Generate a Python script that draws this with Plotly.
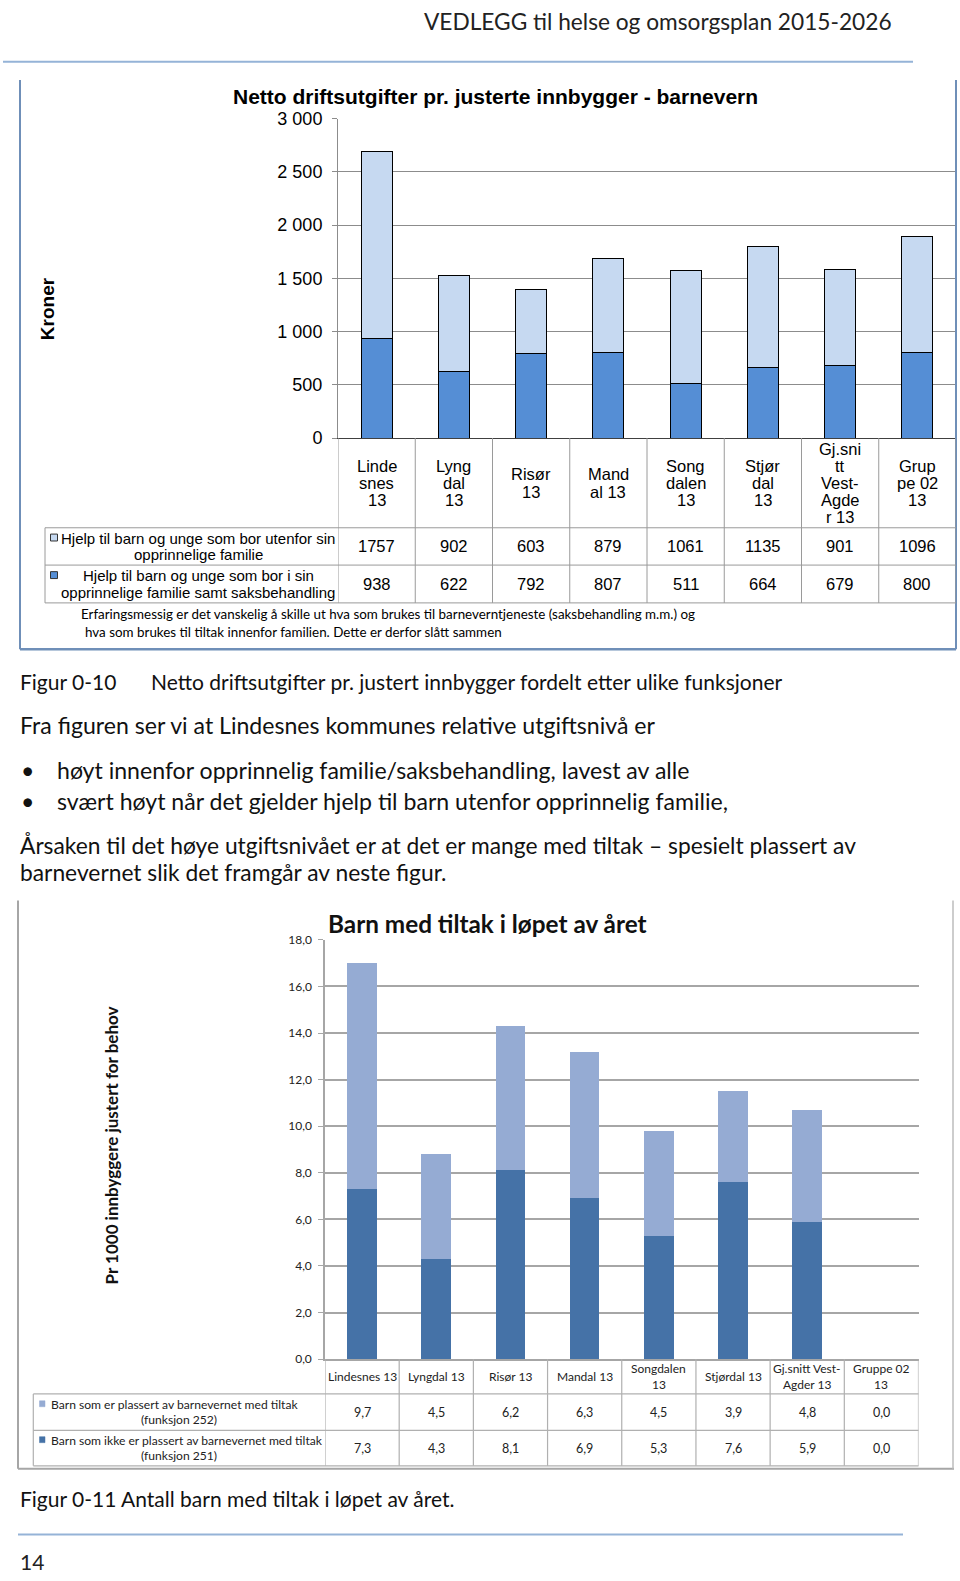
import plotly.graph_objects as go

W, H = 960, 1581

# ---------------- data ----------------
cats1 = ["Linde<br>snes<br>13", "Lyng<br>dal<br>13", "Risør<br>13", "Mand<br>al 13",
         "Song<br>dalen<br>13", "Stjør<br>dal<br>13", "Gj.sni<br>tt<br>Vest-<br>Agde<br>r 13",
         "Grup<br>pe 02<br>13"]
series1_names = ["Hjelp til barn og unge som bor utenfor sin<br>opprinnelige familie",
                 "Hjelp til barn og unge som bor i sin<br>opprinnelige familie samt saksbehandling"]
outside_family = [1757, 902, 603, 879, 1061, 1135, 901, 1096]
inside_family = [938, 622, 792, 807, 511, 664, 679, 800]
y1_ticks = [0, 500, 1000, 1500, 2000, 2500, 3000]

cats2 = ["Lindesnes 13", "Lyngdal 13", "Risør 13", "Mandal 13", "Songdalen<br>13",
         "Stjørdal 13", "Gj.snitt Vest-<br>Agder 13", "Gruppe 02<br>13"]
series2_names = ["Barn som er plassert av barnevernet med tiltak<br>(funksjon 252)",
                 "Barn som ikke er plassert av barnevernet med tiltak<br>(funksjon 251)"]
placed = [9.7, 4.5, 6.2, 6.3, 4.5, 3.9, 4.8, 0.0]
not_placed = [7.3, 4.3, 8.1, 6.9, 5.3, 7.6, 5.9, 0.0]
y2_ticks = [0, 2, 4, 6, 8, 10, 12, 14, 16, 18]

# ---------------- style ----------------
F_AR = "Liberation Sans, Arial, sans-serif"
F_CAL = "Lato, Carlito, Calibri, sans-serif"
F_BODY = "Lato, sans-serif"
C1_TOP, C1_BOT = "#c6d9f1", "#558ed5"
C2_TOP, C2_BOT = "#95abd3", "#4572a7"

def px(x):
    return x / W

def py(y):
    return 1 - y / H

# chart 1 geometry (pixels)
P1_L, P1_R, P1_T, P1_B = 338, 956, 110, 433.6
T1_L, T1_R1, T1_R2, T1_BOT = 45, 524.4, 562.2, 600.5
# chart 2 geometry
P2_L, P2_R, P2_T, P2_B = 325, 918.5, 941.8, 1366.4
T2_L, T2_R1, T2_R2, T2_BOT = 33.3, 1401.7, 1438.5, 1474.5

fig = go.Figure()

fig.add_trace(go.Bar(x=list(range(8)), y=inside_family, xaxis="x", yaxis="y", width=0.4,
                     marker=dict(color=C1_BOT, line=dict(color="#000000", width=1)),
                     name="inside"))
fig.add_trace(go.Bar(x=list(range(8)), y=outside_family, xaxis="x", yaxis="y", width=0.4,
                     marker=dict(color=C1_TOP, line=dict(color="#000000", width=1)),
                     name="outside"))
fig.add_trace(go.Bar(x=list(range(8)), y=not_placed, xaxis="x2", yaxis="y2", width=0.4,
                     marker=dict(color=C2_BOT, line=dict(width=0)), name="251"))
fig.add_trace(go.Bar(x=list(range(8)), y=placed, xaxis="x2", yaxis="y2", width=0.4,
                     marker=dict(color=C2_TOP, line=dict(width=0)), name="252"))

fig.update_layout(
    width=W, height=H, margin=dict(l=0, r=0, t=0, b=0),
    paper_bgcolor="white", plot_bgcolor="white",
    barmode="stack", showlegend=False, separators=", ",
    xaxis=dict(domain=[px(P1_L), px(P1_R)], range=[-0.5, 7.5], showticklabels=False,
               showgrid=False, zeroline=False, showline=True, linecolor="#404040",
               linewidth=1, ticks="", anchor="y", fixedrange=True),
    yaxis=dict(domain=[py(P1_B), py(P1_T)], range=[0, 3000], tickvals=y1_ticks,
               tickformat=",d", showgrid=True, gridcolor="#8c8c8c", gridwidth=1,
               zeroline=False, showline=True, linecolor="#8c8c8c", linewidth=1,
               ticks="outside", ticklen=5, tickcolor="#8c8c8c", ticklabelstandoff=6,
               tickfont=dict(family=F_AR, size=18, color="#000"), anchor="x"),
    xaxis2=dict(domain=[px(P2_L), px(P2_R)], range=[-0.5, 7.5], showticklabels=False,
                showgrid=False, zeroline=False, showline=True, linecolor="#a6a6a6",
                linewidth=1.5, ticks="", anchor="y2"),
    yaxis2=dict(domain=[py(P2_B), py(P2_T)], range=[0, 18], tickvals=y2_ticks,
                tickformat=".1f", showgrid=True, gridcolor="#a6a6a6", gridwidth=1.5,
                zeroline=False, showline=True, linecolor="#a6a6a6", linewidth=1.5,
                ticks="outside", ticklen=5, tickcolor="#a6a6a6", ticklabelstandoff=4,
                tickfont=dict(family=F_CAL, size=12, color="#222"), anchor="x2"),
)

def line(x0, y0, x1, y1, color, width=1, xref="paper"):
    if xref == "paper":
        x0, x1 = px(x0), px(x1)
    fig.add_shape(type="line", xref=xref, yref="paper", x0=x0, x1=x1, y0=py(y0), y1=py(y1),
                  line=dict(color=color, width=width))

def rect(x0, y0, x1, y1, fill, lc, lw=1):
    fig.add_shape(type="rect", xref="paper", yref="paper", x0=px(x0), x1=px(x1),
                  y0=py(y0), y1=py(y1), fillcolor=fill, line=dict(color=lc, width=lw))

def text(x, y, s, size, family, color="#000", xanchor="left", yanchor="middle",
         angle=0, xref="paper", align="left"):
    fig.add_annotation(x=px(x) if xref == "paper" else x, y=py(y), xref=xref, yref="paper",
                       text=s, showarrow=False, xanchor=xanchor, yanchor=yanchor,
                       textangle=angle, align=align,
                       font=dict(family=family, size=size, color=color))

def multiline(x, yc, s, size, family, lh, xref="paper", color="#000", xanchor="center",
              first_left=None):
    parts = s.split("<br>")
    n = len(parts)
    for k, p in enumerate(parts):
        yy = yc + (k - (n - 1) / 2) * lh
        if k == 0 and first_left is not None:
            text(first_left, yy, p, size, family, color=color, xanchor="left")
        else:
            text(x, yy, p, size, family, color=color, xanchor=xanchor, xref=xref)

# ---------------- page header ----------------
text(894, 12, "VEDLEGG til helse og omsorgsplan 2015-2026", 22.7, F_BODY, "#222", xanchor="right")
line(3, 52.5, 913, 52.5, "#95b3d7", 2)

# ---------------- chart 1 frame ----------------
line(20, 71, 20, 647.5, "#6f8fb8", 2)
line(20, 647.5, 956, 647.5, "#6f8fb8", 2.5)
line(956, 71, 956, 647.5, "#6f8fb8", 2)

text(495, 88, "<b>Netto driftsutgifter pr. justerte innbygger - barnevern</b>", 21, F_AR,
     xanchor="center")
text(47, 303, "<b>Kroner</b>", 19, F_AR, xanchor="center", angle=-90)

# chart 1 table
for i in range(9):
    line(i - 0.5, P1_B, i - 0.5, T1_BOT, "#9a9a9a", 1, xref="x")
for yy in (T1_R1, T1_R2, T1_BOT):
    line(T1_L, yy, P1_R, yy, "#9a9a9a", 1)
line(T1_L, T1_R1, T1_L, T1_BOT, "#9a9a9a", 1)

for i, c in enumerate(cats1):
    multiline(i, (P1_B + T1_R1) / 2, c, 16.5, F_AR, 17.4, xref="x")

row_c1 = [(T1_R1 + T1_R2) / 2, (T1_R2 + T1_BOT) / 2]
for r, (vals, name, col) in enumerate([(outside_family, series1_names[0], C1_TOP),
                                       (inside_family, series1_names[1], C1_BOT)]):
    for i, v in enumerate(vals):
        text(i, row_c1[r], str(v), 16.5, F_AR, xanchor="center", xref="x")
    multiline(198, row_c1[r], name, 15, F_AR, 17)
    rect(50.5, row_c1[r] - 12.5, 57.5, row_c1[r] - 5.5, col, "#333", 1)

text(79, 612, "Erfaringsmessig er det vanskelig å skille ut hva som brukes til "
     "barneverntjeneste (saksbehandling m.m.) og", 13.4, F_CAL)
text(83, 629.5, "hva som brukes til tiltak innenfor familien. Dette er derfor slått sammen",
     13.4, F_CAL)

# ---------------- body text ----------------
BODY = 23.1
text(18, 680, "Figur 0-10", 21, F_BODY, "#111")
text(149, 680, "Netto driftsutgifter pr. justert innbygger fordelt etter ulike funksjoner",
     21, F_BODY, "#111")
text(18, 724, "Fra figuren ser vi at Lindesnes kommunes relative utgiftsnivå er", BODY, F_BODY, "#111")
text(19, 769.5, "•", BODY, F_BODY, "#111")
text(54.5, 769.5, "høyt innenfor opprinnelig familie/saksbehandling, lavest av alle", BODY,
     F_BODY, "#111")
text(19, 801.5, "•", BODY, F_BODY, "#111")
text(54.5, 801.5, "svært høyt når det gjelder hjelp til barn utenfor opprinnelig familie,", BODY,
     F_BODY, "#111")
text(18, 846, "Årsaken til det høye utgiftsnivået er at det er mange med tiltak – spesielt plassert av",
     22.8, F_BODY, "#111")
text(18, 873, "barnevernet slik det framgår av neste figur.", 22.8, F_BODY, "#111")

# ---------------- chart 2 frame ----------------
line(18, 902, 18, 1477.5, "#a6a6a6", 2)
line(18, 1477.5, 954, 1477.5, "#a6a6a6", 2)
line(953, 902, 953, 1477.5, "#bdbdbd", 1.5)

text(325.5, 925, "<b>Barn med tiltak i løpet av året</b>", 24.3, F_CAL, "#111")
text(111, 1150, "<b>Pr 1000 innbyggere justert for behov</b>", 17, F_CAL, "#111",
     xanchor="center", angle=-90)

for i in range(9):
    line(i - 0.5, P2_B, i - 0.5, T2_BOT, "#b0b0b0", 1.2, xref="x2")
for yy in (T2_R1, T2_R2, T2_BOT):
    line(T2_L, yy, P2_R, yy, "#b0b0b0", 1.2)
line(T2_L, T2_R1, T2_L, T2_BOT, "#b0b0b0", 1.2)

for i, c in enumerate(cats2):
    multiline(i, (P2_B + T2_R1) / 2, c, 12, F_CAL, 15.5, xref="x2", color="#222")

row_c2 = [(T2_R1 + T2_R2) / 2, (T2_R2 + T2_BOT) / 2]
for r, (vals, name, col) in enumerate([(placed, series2_names[0], C2_TOP),
                                       (not_placed, series2_names[1], C2_BOT)]):
    for i, v in enumerate(vals):
        text(i, row_c2[r], f"{v:.1f}".replace(".", ","), 12.5, F_CAL, "#222",
             xanchor="center", xref="x2")
    multiline(178.5, row_c2[r], name, 12.1, F_CAL, 15.5, color="#222", first_left=48.5)
    rect(39.5, row_c2[r] - 11.5, 45, row_c2[r] - 5.5, col, col, 0.5)

text(18, 1508, "Figur 0-11 Antall barn med tiltak i løpet av året.", 21, F_BODY, "#111")
line(18, 1544, 903, 1544, "#95b3d7", 2)
text(18, 1571, "14", 21, F_BODY, "#222")

fig.write_html("out.html", post_script="document.body.style.margin='0px';"
                                       "document.body.style.overflow='hidden';")
